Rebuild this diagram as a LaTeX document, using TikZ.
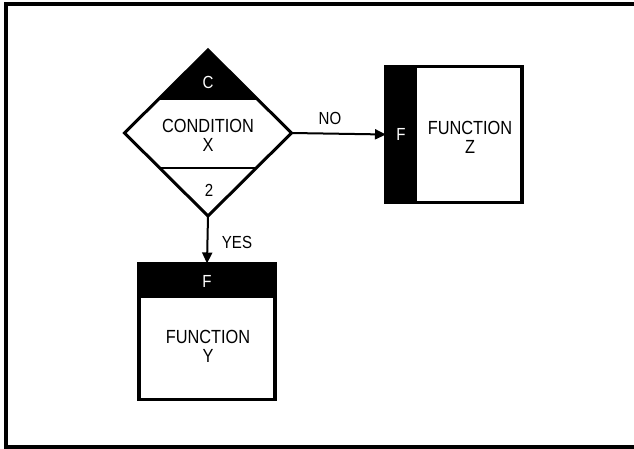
\documentclass[tikz,border=0pt]{standalone}
\usepackage{fontspec}
\setmainfont{Liberation Sans}[FakeStretch=0.86]
\usetikzlibrary{shapes.geometric,arrows.meta,calc}

\begin{document}
\begin{tikzpicture}[x=1pt, y=-1pt,
  txt/.style={font=\fontsize{19}{19}\selectfont, align=center, inner sep=0pt},
  tag/.style={font=\fontsize{17.5}{17.5}\selectfont, inner sep=0pt},
  fbox/.style={draw, line width=3.5pt, minimum width=136pt, minimum height=136pt, inner sep=0pt, outer sep=0pt},
  flow/.style={line width=2pt, -{Triangle[length=11pt,width=10pt]}}]
\useasboundingbox (0,0) rectangle (634,449);
\clip (0,0) rectangle (634,449);
\draw[line width=4pt] (6,4.5) rectangle (650,447);

% decision
\node[diamond, draw, line width=3pt, minimum width=167pt, minimum height=166pt, inner sep=0pt, outer sep=0pt] (cond) at (208,133) {};
\coordinate (ctopl) at ($(cond.north)!0.6!(cond.west)$);
\coordinate (ctopr) at ($(cond.north)!0.6!(cond.east)$);
\coordinate (cbotl) at ($(cond.south)!0.58!(cond.west)$);
\coordinate (cbotr) at ($(cond.south)!0.58!(cond.east)$);
\fill (cond.north) -- (ctopl) -- (ctopr) -- cycle;
\draw[line width=2.5pt] (cbotl) -- (cbotr);
\node[tag, text=white] (ctag) at (208,82) {C};
\node[txt] (ctext) at (208,135) {CONDITION\\X};
\node[tag] (cnum) at (209,190) {2};

% functions
\node[fbox] (ybox) at (207,331.5) {};
\fill (ybox.north west) rectangle ($(ybox.north east)+(0,34)$);
\node[tag, text=white] (ytag) at (207,281) {F};
\node[txt] (ytext) at (208,346) {FUNCTION\\Y};

\node[fbox] (zbox) at (454,134.5) {};
\fill (zbox.north west) rectangle ($(zbox.south west)+(31,0)$);
\node[tag, text=white] (ztag) at (401,134) {F};
\node[txt] (ztext) at (470,137) {FUNCTION\\Z};

\draw[flow] (cond.south) -- (ybox.north);
\draw[flow] (cond.east) -- (zbox.west);
\node[tag] (yes) at (237,242) {YES};
\node[tag] (no) at (330,118) {NO};
\end{tikzpicture}
\end{document}
